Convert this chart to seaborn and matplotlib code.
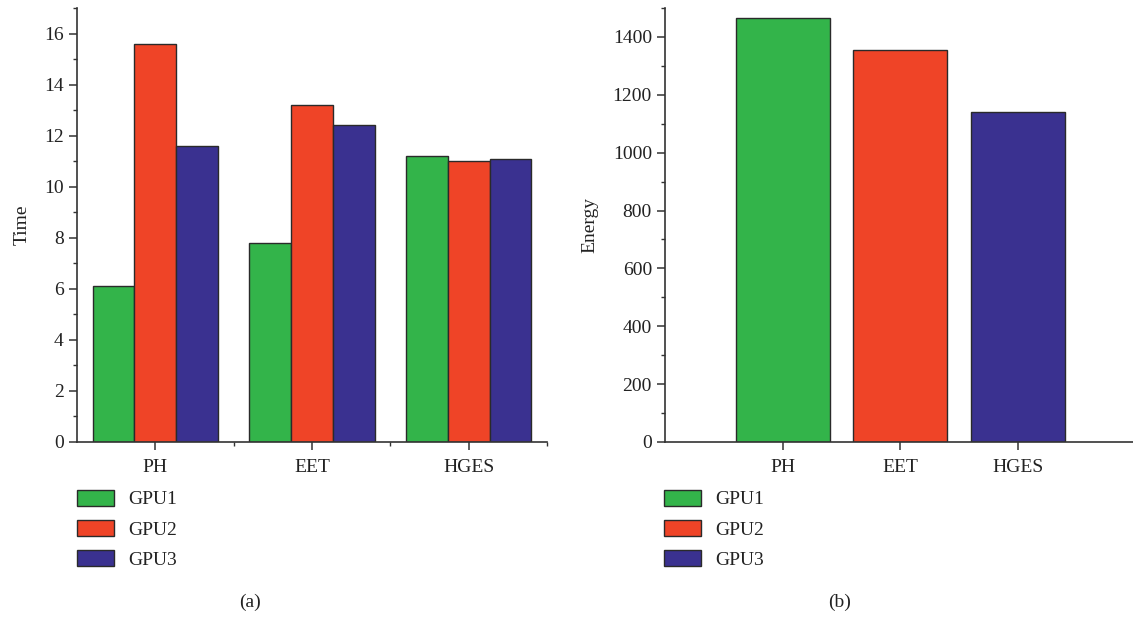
import pandas as pd
import matplotlib.pyplot as plt
import seaborn as sns
from matplotlib.patches import Patch
from matplotlib.ticker import MultipleLocator

categories = ["PH", "EET", "HGES"]
gpus = ["GPU1", "GPU2", "GPU3"]
time_gpu1 = [6.1, 7.8, 11.2]
time_gpu2 = [15.6, 13.2, 11.0]
time_gpu3 = [11.6, 12.4, 11.1]
energy = [1465, 1355, 1140]

colors = ["#33b44a", "#ef4427", "#3a3190"]
edge = "#2a2a2a"
fs = 14

sns.set_style("ticks")
plt.rcParams["font.family"] = ["Liberation Serif", "DejaVu Serif"]
plt.rcParams["font.size"] = fs

df_time = pd.DataFrame({
    "Method": categories * 3,
    "GPU": [g for g in gpus for _ in categories],
    "Time": time_gpu1 + time_gpu2 + time_gpu3,
})
df_energy = pd.DataFrame({"Method": categories, "Energy": energy, "GPU": gpus})

fig = plt.figure(figsize=(11.33, 6.18), dpi=100)
ax1 = fig.add_axes([0.068, 0.2848, 0.4148, 0.7023])
ax2 = fig.add_axes([0.587, 0.2848, 0.4148, 0.7023])

# (a) time per method, grouped by GPU
sns.barplot(data=df_time, x="Method", y="Time", hue="GPU", palette=colors,
            width=0.8, edgecolor=edge, linewidth=1, saturation=1,
            legend=False, ax=ax1)
ax1.set_xlim(-0.5, 2.5)
ax1.set_ylim(0, 17)
ax1.yaxis.set_major_locator(MultipleLocator(2))
ax1.yaxis.set_minor_locator(MultipleLocator(1))
ax1.set_xticks([0.5, 1.5, 2.5], minor=True)
ax1.set_xlabel("")
ax1.set_ylabel("Time", labelpad=10)

# (b) energy per method
sns.barplot(data=df_energy, x="Method", y="Energy", hue="GPU", palette=colors,
            width=0.8, dodge=False, edgecolor=edge, linewidth=1, saturation=1,
            legend=False, ax=ax2)
ax2.set_xlim(-1, 3)
ax2.set_ylim(0, 1500)
ax2.yaxis.set_major_locator(MultipleLocator(200))
ax2.yaxis.set_minor_locator(MultipleLocator(100))
ax2.set_xlabel("")
ax2.set_ylabel("Energy", labelpad=10)

for ax in (ax1, ax2):
    sns.despine(ax=ax)
    for s in ("left", "bottom"):
        ax.spines[s].set_color("#333333")
        ax.spines[s].set_linewidth(1.2)
    ax.tick_params(which="major", length=6, width=1.1, color="#333333",
                   labelcolor="#222222", labelsize=fs)
    ax.tick_params(which="minor", length=3, width=1.0, color="#333333")
    ax.tick_params(axis="x", which="major", pad=6)
    ax.yaxis.label.set_color("#222222")
    ax.yaxis.label.set_size(fs)

handles = [Patch(facecolor=c, edgecolor=edge, linewidth=1) for c in colors]
for x0, tag, xt in ((77, "(a)", 250), (664, "(b)", 840)):
    fig.legend(handles, gpus, loc="upper left",
               bbox_to_anchor=(x0 / 1133, (618 - 490) / 618),
               frameon=False, borderpad=0, borderaxespad=0,
               handlelength=1.9, handleheight=0.85, handletextpad=0.75,
               labelspacing=0.6, fontsize=fs, labelcolor="#222222")
    fig.text(xt / 1133, (618 - 602) / 618, tag, ha="center", va="center",
             fontsize=fs, color="#222222")

fig.savefig("out.png", dpi=100)
